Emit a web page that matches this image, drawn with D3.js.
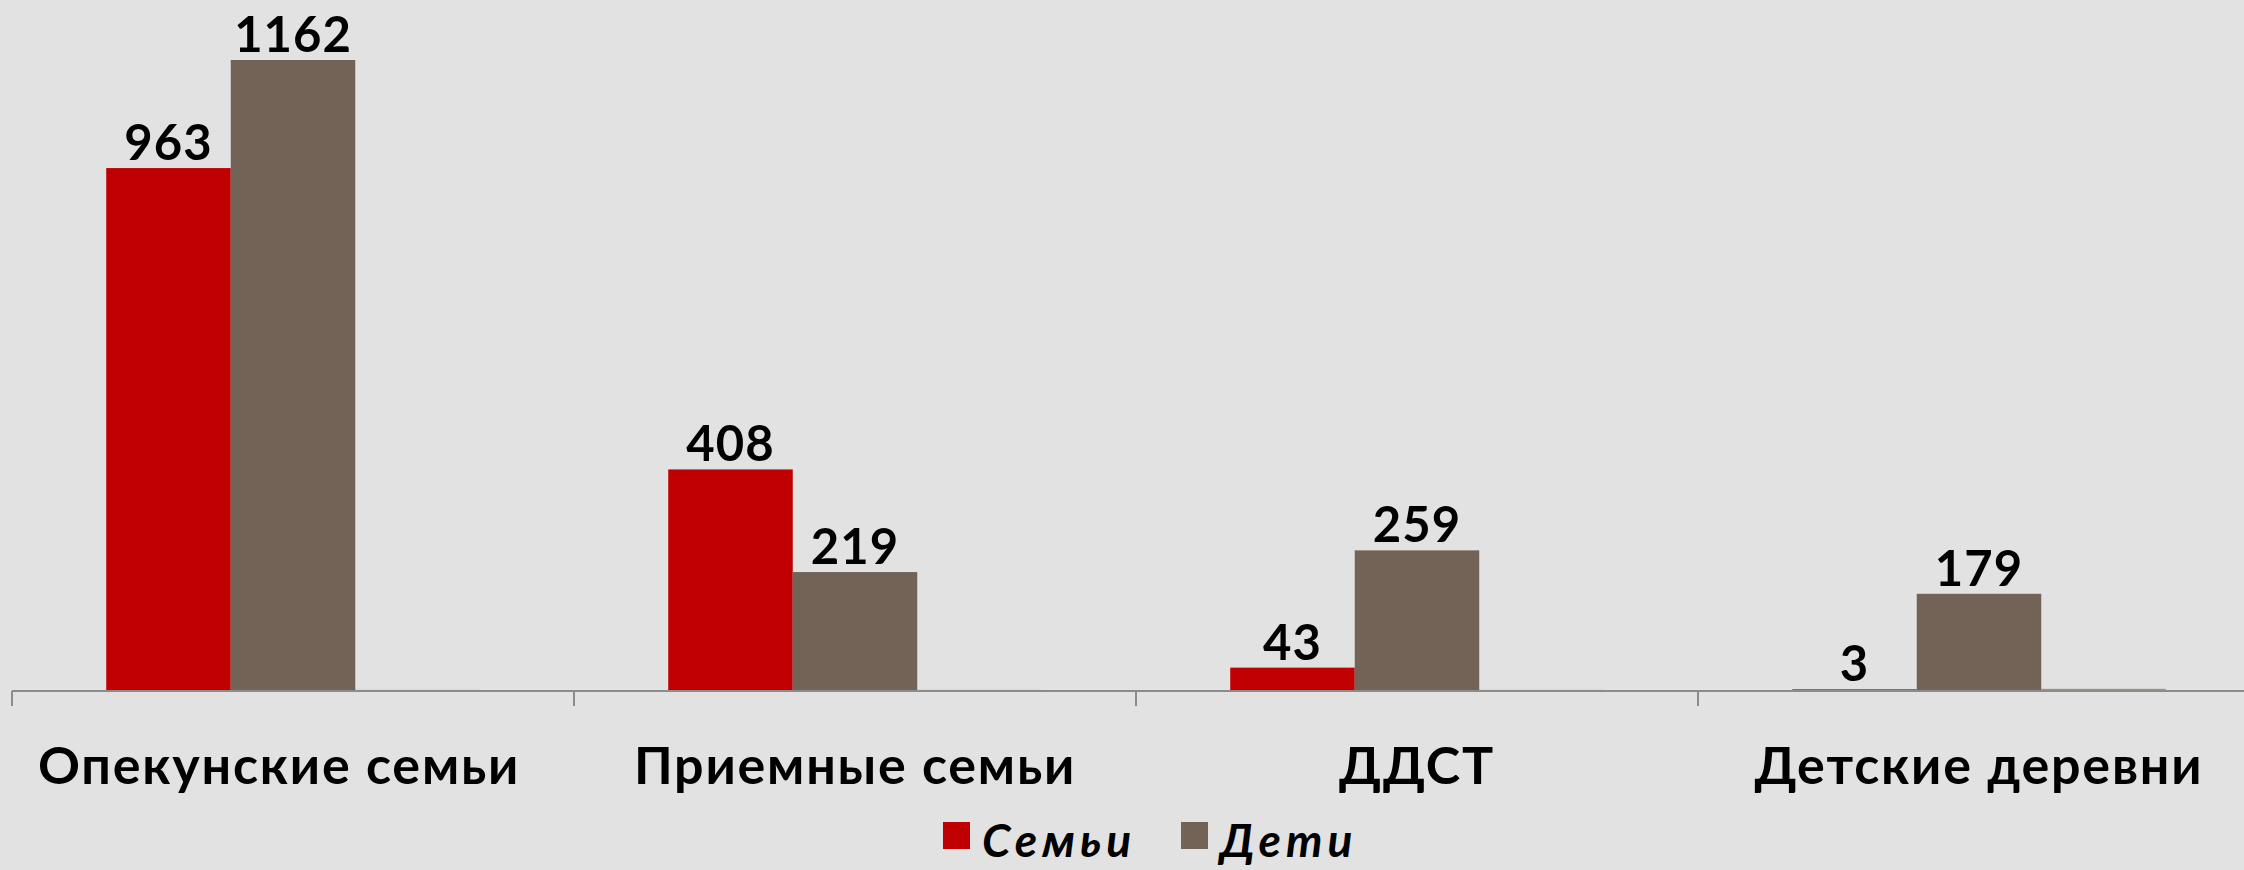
<!DOCTYPE html>
<html>
<head>
<meta charset="utf-8">
<script src="https://cdn.jsdelivr.net/npm/d3@7"></script>
<style>
	html, body { margin: 0; padding: 0; background: #e2e2e2; overflow: hidden; }
	svg { display: block; }
	.value { font-family: Lato, sans-serif; font-weight: 700; font-size: 49px; letter-spacing: 1px; fill: #000; }
	.cat { font-family: Lato, sans-serif; font-weight: 700; font-size: 52px; letter-spacing: 1.8px; fill: #000; }
	.legend text { font-family: Lato, sans-serif; font-weight: 700; font-style: italic; font-size: 46px; letter-spacing: 5px; fill: #000; }
</style>
</head>
<body>
<svg id="chart"></svg>
<script>
// categories and series
var categories = ["Опекунские семьи", "Приемные семьи", "ДДСТ", "Детские деревни"];
var families = [963, 408, 43, 3];
var children = [1162, 219, 259, 179];
// third series with no legend entry, barely visible on the axis
var third = [2, 2, 2, 4];

var series = [
	{ name: "Семьи", values: families, color: "#c00000", labelled: true, legend: true },
	{ name: "Дети", values: children, color: "#736357", labelled: true, legend: true },
	{ name: "Ряд 3", values: third, color: "#a8926e", labelled: false, legend: false }
];

var width = 2244, height = 870;
var axisY = 691;

var svg = d3.select("#chart")
	.attr("width", width)
	.attr("height", height);

// one band per category, bars sit in the middle two thirds of it
var x0 = d3.scaleBand()
	.domain(categories)
	.range([12, 12 + 4 * 562])
	.padding(0);

var x1 = d3.scaleBand()
	.domain(series.map(function(s) { return s.name; }))
	.range([0, x0.bandwidth()])
	.paddingInner(0)
	.paddingOuter(0.757);

var y = d3.scaleLinear()
	.domain([0, 1162])
	.range([axisY, 60]);

var groups = svg.append("g").attr("class", "bars")
	.selectAll("g")
	.data(categories)
	.enter().append("g")
	.attr("transform", function(d) { return "translate(" + x0(d) + ",0)"; });

groups.selectAll("rect")
	.data(function(d, i) {
		return series.map(function(s) { return { s: s, v: s.values[i] }; });
	})
	.enter().append("rect")
	.attr("x", function(d) { return x1(d.s.name); })
	.attr("width", x1.bandwidth())
	.attr("y", function(d) { return y(d.v); })
	.attr("height", function(d) { return axisY - y(d.v); })
	.attr("fill", function(d) { return d.s.color; });

// value labels above the red and brown bars
groups.selectAll("text.value")
	.data(function(d, i) {
		return series.filter(function(s) { return s.labelled; })
			.map(function(s) { return { s: s, v: s.values[i] }; });
	})
	.enter().append("text")
	.attr("class", "value")
	.attr("text-anchor", "middle")
	.attr("x", function(d) { return x1(d.s.name) + x1.bandwidth() / 2; })
	.attr("y", function(d) { return y(d.v) - 8; })
	.text(function(d) { return d.v; });

// category axis with ticks between bands
var axis = svg.append("g")
	.attr("transform", "translate(0," + axisY + ")");

axis.append("line")
	.attr("x1", x0.range()[0]).attr("x2", width)
	.attr("y1", 0).attr("y2", 0)
	.attr("stroke", "#8c8c8c").attr("stroke-width", 2);

axis.selectAll("line.tick")
	.data(categories)
	.enter().append("line")
	.attr("class", "tick")
	.attr("x1", function(d) { return x0(d); })
	.attr("x2", function(d) { return x0(d); })
	.attr("y1", 0).attr("y2", 15)
	.attr("stroke", "#8c8c8c").attr("stroke-width", 2);

axis.selectAll("text.cat")
	.data(categories)
	.enter().append("text")
	.attr("class", "cat")
	.attr("text-anchor", "middle")
	.attr("x", function(d, i) { return x0(d) + x0.bandwidth() / 2 - (i == 0 ? 14 : 0); })
	.attr("y", 93)
	.text(function(d) { return d; });

// legend, only the two named series
var legendItems = series.filter(function(s) { return s.legend; });
var legendX = [943, 1181];
var legend = svg.append("g").attr("class", "legend");
var item = legend.selectAll("g")
	.data(legendItems)
	.enter().append("g")
	.attr("transform", function(d, i) { return "translate(" + legendX[i] + ",822)"; });
item.append("rect")
	.attr("width", 27).attr("height", 27)
	.attr("fill", function(d) { return d.color; });
item.append("text")
	.attr("x", 39)
	.attr("y", 35)
	.text(function(d) { return d.name; });
</script>
</body>
</html>
